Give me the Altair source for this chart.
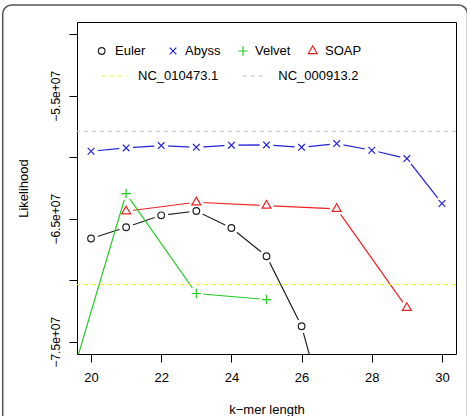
import altair as alt
import pandas as pd

# Likelihood of each assembly by k-mer length
k_euler = [20, 21, 22, 23, 24, 25, 26, 27]
lik_euler = [-6.661e7, -6.569e7, -6.472e7, -6.437e7, -6.575e7, -6.805e7, -7.374e7, -8.42e7]

k_abyss = [20, 21, 22, 23, 24, 25, 26, 27, 28, 29, 30]
lik_abyss = [-5.951e7, -5.924e7, -5.905e7, -5.919e7, -5.902e7, -5.900e7,
             -5.919e7, -5.889e7, -5.943e7, -6.011e7, -6.376e7]

k_velvet = [19, 21, 23, 25]
lik_velvet = [-8.22e7, -6.295e7, -7.108e7, -7.157e7]

k_soap = [21, 23, 25, 27, 29]
lik_soap = [-6.439e7, -6.366e7, -6.393e7, -6.420e7, -7.225e7]

# Reference genomes (horizontal dashed lines)
ref_names = ["NC_010473.1", "NC_000913.2"]
ref_lik = [-7.035e7, -5.789e7]
ref_colors = ["#eeee1a", "#bdbdbd"]

x_ticks = [20, 22, 24, 26, 28, 30]
y_ticks = [-7.5e7, -7.0e7, -6.5e7, -6.0e7, -5.5e7, -5.0e7]

FONT = "Liberation Sans"
XS = alt.Scale(domain=[19.6, 30.4], nice=False, zero=False)
YS = alt.Scale(domain=[-7.6e7, -4.9e7], nice=False, zero=False)

CROSS = "M-1,-1L1,1M-1,1L1,-1"
PLUS = "M-1,0L1,0M0,-1L0,1"
TRIANGLE = "M0,-1L0.866,0.5L-0.866,0.5Z"

series = [
    # name, ks, values, colour, shape, symbol size
    ("Euler", k_euler, lik_euler, "#222222", "circle", 44),
    ("SOAP", k_soap, lik_soap, "#ee2222", TRIANGLE, 105),
    ("Abyss", k_abyss, lik_abyss, "#2222dd", CROSS, 44),
    ("Velvet", k_velvet, lik_velvet, "#22cc22", PLUS, 87),
]

x_axis = alt.Axis(values=x_ticks, format="d", grid=False, domain=False,
                  tickSize=8, tickColor="black", tickWidth=1,
                  labelFontSize=13, labelFont=FONT, labelColor="black",
                  labelPadding=9, labelFlush=False,
                  title="k\u2212mer length", titleFont=FONT, titleFontSize=13,
                  titleFontWeight="normal", titleColor="black",
                  titleY=59, titleBaseline="alphabetic")

y_label_expr = ("datum.value == -55000000 ? '\u22125.5e+07' : "
                "datum.value == -65000000 ? '\u22126.5e+07' : "
                "datum.value == -75000000 ? '\u22127.5e+07' : ''")
y_axis = alt.Axis(values=y_ticks, grid=False, domain=False,
                  tickSize=8, tickColor="black", tickWidth=1,
                  labelExpr=y_label_expr, labelAngle=270,
                  labelAlign="center", labelBaseline="bottom",
                  labelFontSize=12, labelFont=FONT, labelColor="black",
                  labelPadding=7, labelOverlap=False, labelFlush=False,
                  title="Likelihood", titleFont=FONT, titleFontSize=13,
                  titleFontWeight="normal", titleColor="black",
                  titleAngle=270, titleAlign="center", titleBaseline="alphabetic",
                  titleX=-50, titleY=166)


def enc_x():
    return alt.X("k:Q", scale=XS, axis=x_axis)


def enc_y():
    return alt.Y("lik:Q", scale=YS, axis=y_axis)


line_layers = []
symbol_layers = []
for name, ks, vals, col, shape, size in series:
    base = alt.Chart(pd.DataFrame({"k": ks, "lik": vals}))
    line = base.mark_line(color=col, strokeWidth=1.2, clip=True).encode(x=enc_x(), y=enc_y())
    # white disc around each point leaves the gap of a "both" style plot
    mask = base.mark_point(shape="circle", filled=True, fill="white", opacity=1,
                           size=196, strokeWidth=0, clip=True).encode(x=enc_x(), y=enc_y())
    line_layers += [line, mask]
    symbol_layers.append(
        base.mark_point(shape=shape, filled=False, color=col, size=size,
                        strokeWidth=1.2, opacity=1, clip=True).encode(x=enc_x(), y=enc_y())
    )

ref_df = pd.DataFrame({"name": ref_names, "lik": ref_lik, "col": ref_colors})
ref_layer = alt.Chart(ref_df).mark_rule(strokeDash=[4, 4], strokeWidth=1).encode(
    y=enc_y(),
    color=alt.Color("col:N", scale=None),
)

one = alt.Data(values=[{"i": 0}])


def legend_text(txt, x, y):
    return alt.Chart(one).mark_text(align="left", baseline="middle", font=FONT,
                                    fontSize=13, color="black").encode(
        x=alt.value(x), y=alt.value(y), text=alt.value(txt))


def legend_symbol(shape, col, size, x, y):
    return alt.Chart(one).mark_point(shape=shape, filled=False, color=col, size=size,
                                     strokeWidth=1.2, opacity=1).encode(
        x=alt.value(x), y=alt.value(y))


def legend_dash(col, x, x2, y):
    return alt.Chart(one).mark_rule(color=col, strokeDash=[4, 4], strokeWidth=1).encode(
        x=alt.value(x), x2=alt.value(x2), y=alt.value(y))


legend_order = ["Euler", "Abyss", "Velvet", "SOAP"]
sym_x = [24.7, 96, 166, 235.7]
txt_x = [38, 108, 178, 248]
lookup = {s[0]: s for s in series}
legend_layers = []
for name, sx, tx in zip(legend_order, sym_x, txt_x):
    _, _, _, col, shape, size = lookup[name]
    legend_layers.append(legend_symbol(shape, col, size, sx, 29))
    legend_layers.append(legend_text(name, tx, 29))
legend_layers.append(legend_dash(ref_colors[0], 24.7, 49.7, 54))
legend_layers.append(legend_text(ref_names[0], 61, 54))
legend_layers.append(legend_dash(ref_colors[1], 165.7, 189.7, 54))
legend_layers.append(legend_text(ref_names[1], 201.3, 54))

# rounded border around the whole figure
border = alt.Chart(one).mark_rect(fillOpacity=0, stroke="#555555", strokeWidth=1.5,
                                  cornerRadius=9, clip=False).encode(
    x=alt.value(-74.3), x2=alt.value(390.5), y=alt.value(-17), y2=alt.value(425))

chart = alt.layer(
    *line_layers, ref_layer, *symbol_layers, *legend_layers, border
).properties(
    width=379, height=332,
    padding={"left": 77, "top": 22, "right": 11, "bottom": 62},
    autosize=alt.AutoSizeParams(type="none"),
    background="white",
).configure(font=FONT).configure_view(stroke="black", strokeWidth=1)

chart.save("out.html", embed_options={"renderer": "svg", "actions": False})
